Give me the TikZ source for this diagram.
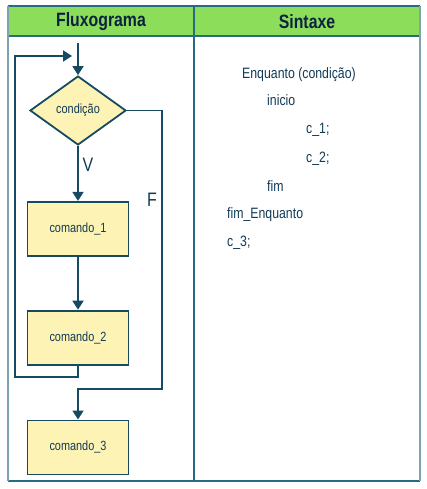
\documentclass[tikz,border=0pt]{standalone}
\usepackage{fontspec}
\setmainfont{Liberation Sans}[FakeStretch=0.82]
\usetikzlibrary{shapes.geometric, arrows.meta, positioning}
\definecolor{headgreen}{RGB}{140, 221, 90}
\definecolor{gridteal}{RGB}{40, 105, 132}
\definecolor{edgegray}{RGB}{125, 162, 178}
\definecolor{flowblue}{RGB}{22, 74, 98}
\definecolor{boxfill}{RGB}{252, 243, 180}
\definecolor{textblue}{RGB}{18, 58, 86}
\definecolor{headnavy}{RGB}{12, 34, 64}

\begin{document}
\begin{tikzpicture}[x=1pt, y=-1pt,
      cmdbox/.style={
        rectangle, minimum width=101pt, minimum height=54pt,
        draw=flowblue, line width=1.8pt, fill=boxfill,
        font=\fontsize{13.3}{15}\selectfont, text=textblue
      },
      cond/.style={
        diamond, minimum width=96pt, minimum height=69pt, inner sep=0pt,
        draw=flowblue, line width=1.8pt, fill=boxfill,
        font=\fontsize{13.3}{15}\selectfont, text=textblue
      },
      arr/.style={-{Triangle[length=9pt, width=11pt]}, line width=1.8pt, color=flowblue},
      head/.style={font=\fontsize{19.3}{21}\selectfont\bfseries, text=headnavy},
      lbl/.style={font=\fontsize{19.5}{21}\selectfont, text=textblue},
      code/.style={anchor=base west, inner sep=0pt, font=\fontsize{15}{17}\selectfont, text=textblue}
  ]
    \useasboundingbox (0,0) rectangle (427,489);

    % table
    \fill[headgreen] (8,6) rectangle (420,36);
    \draw[gridteal, line width=1.2pt] (8,6) -- (420,6);
    \draw[gridteal, line width=1.2pt] (8,36) -- (420,36);
    \draw[gridteal, line width=1.2pt] (8,481) -- (420,481);
    \draw[gridteal, line width=1.2pt] (194,6) -- (194,481);
    \draw[edgegray, line width=1.2pt] (8,6) -- (8,481);
    \draw[edgegray, line width=2pt] (420,6) -- (420,481);

    \node[head] (hflux) at (101,22) {Fluxograma};
    \node[head] (hsint) at (307,22) {Sintaxe};

    % flowchart
    \node[cond] (cond) at (78,110.5) {condição};
    \node[cmdbox] (c1) [below=55pt of cond] {comando\_1};
    \node[cmdbox] (c2) [below=53pt of c1] {comando\_2};
    \node[cmdbox] (c3) [below=54pt of c2] {comando\_3};

    \coordinate (entry) at (78,43);
    \coordinate (loopin) at (72,56);

    \draw[arr] (entry) -- (cond.north);
    \draw[arr] (cond.south) -- (c1.north);
    \draw[arr] (c1.south) -- (c2.north);
    \draw[arr] (c2.south) |- (15,377) |- (loopin);
    \draw[arr] (cond.east) -| (162,389) -| (c3.north);

    \node[lbl] (vlab) at (88,165) {V};
    \node[lbl] (flab) at (152,200) {F};

    % syntax
    \node[code] (s1) at (242,79) {Enquanto (condição)};
    \node[code] (s2) at (267,106) {inicio};
    \node[code] (s3) at (306,134) {c\_1;};
    \node[code] (s4) at (306,162) {c\_2;};
    \node[code] (s5) at (267,191) {fim};
    \node[code] (s6) at (227,218) {fim\_Enquanto};
    \node[code] (s7) at (227,246) {c\_3;};
  \end{tikzpicture}
\end{document}
